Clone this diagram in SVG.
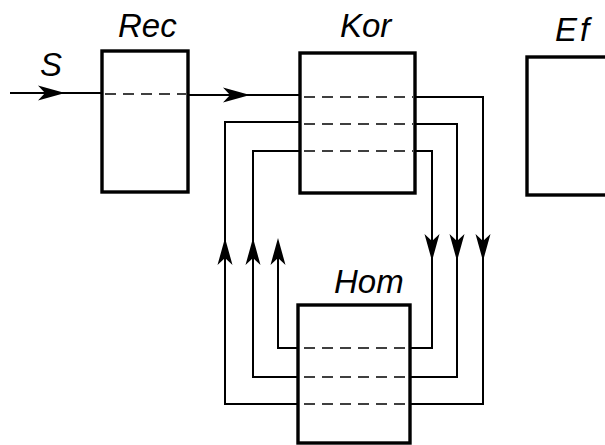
<svg xmlns="http://www.w3.org/2000/svg" xmlns:xlink="http://www.w3.org/1999/xlink" width="605" height="445" viewBox="0 0 605 445">
  <style>
    .box { fill: none; stroke: #000; stroke-width: 3.4; }
    .dash { fill: none; stroke: #000; stroke-width: 1.6; stroke-dasharray: 11 7; }
    .wire { fill: none; stroke: #000; stroke-width: 2; }
    .ah { fill: #000; stroke: none; }
    .lbl { font-family: "Liberation Sans", Arial, sans-serif; font-style: italic; font-size: 33px; fill: #000; }
  </style>
  <defs>
    <path id="ah" class="ah" d="M0,0 L-27,-7.5 L-20,0 L-27,7.5 Z"/>
  </defs>
  <rect width="605" height="445" fill="#fff"/>

  <g id="connectors">
    <!-- input S -->
    <line class="wire" x1="10" y1="93" x2="102" y2="93"/>
    <use xlink:href="#ah" transform="translate(65,93)"/>
    <!-- Rec to Kor -->
    <line class="wire" x1="188" y1="95" x2="300" y2="95"/>
    <use xlink:href="#ah" transform="translate(250,95)"/>
    <!-- right loops Kor -> Hom -->
    <polyline class="wire" points="415,97 483,97 483,404 410,404"/>
    <polyline class="wire" points="415,124 457,124 457,377 410,377"/>
    <polyline class="wire" points="415,151 432,151 432,348 410,348"/>
    <use xlink:href="#ah" transform="translate(483,261) rotate(90)"/>
    <use xlink:href="#ah" transform="translate(457,261) rotate(90)"/>
    <use xlink:href="#ah" transform="translate(432,261) rotate(90)"/>
    <!-- left loops Hom -> Kor -->
    <polyline class="wire" points="298,404 225,404 225,122 300,122"/>
    <polyline class="wire" points="298,377 253,377 253,151 300,151"/>
    <polyline class="wire" points="298,348 278,348 278,245"/>
    <use xlink:href="#ah" transform="translate(225,238) rotate(-90)"/>
    <use xlink:href="#ah" transform="translate(253,238) rotate(-90)"/>
    <use xlink:href="#ah" transform="translate(278,238) rotate(-90)"/>
  </g>

  <g id="input">
    <text class="lbl" x="40" y="76">S</text>
  </g>

  <g id="rec">
    <rect class="box" x="102" y="51" width="86" height="141" fill="#fff"/>
    <line class="dash" x1="105" y1="94" x2="186" y2="94"/>
    <text class="lbl" x="118" y="37">Rec</text>
  </g>

  <g id="kor">
    <rect class="box" x="300" y="53" width="115" height="140"/>
    <line class="dash" x1="304" y1="97" x2="413" y2="97"/>
    <line class="dash" x1="304" y1="124" x2="413" y2="124"/>
    <line class="dash" x1="304" y1="151" x2="413" y2="151"/>
    <text class="lbl" x="340" y="37">Kor</text>
  </g>

  <g id="ef">
    <rect class="box" x="527" y="57" width="100" height="138"/>
    <text class="lbl" x="555" y="41" letter-spacing="3">Ef</text>
  </g>

  <g id="hom">
    <rect class="box" x="298" y="305" width="112" height="138"/>
    <line class="dash" x1="304" y1="348" x2="408" y2="348"/>
    <line class="dash" x1="304" y1="377" x2="408" y2="377"/>
    <line class="dash" x1="304" y1="404" x2="408" y2="404"/>
    <text class="lbl" x="334" y="293">Hom</text>
  </g>
</svg>
